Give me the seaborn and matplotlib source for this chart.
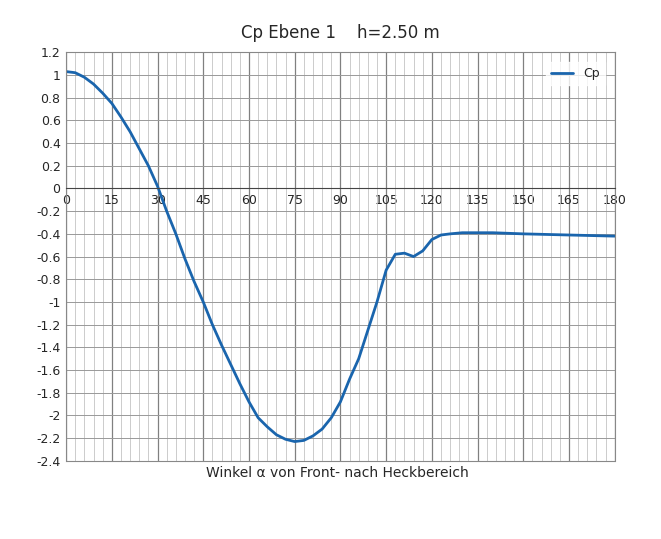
import numpy as np
import matplotlib.pyplot as plt
import seaborn as sns

# Cp distribution
winkel = [0, 3, 6, 9, 12, 15, 18, 21, 24, 27, 30, 33, 36, 39, 42, 45, 48, 51, 54, 57,
          60, 63, 66, 69, 72, 75, 78, 81, 84, 87, 90, 93, 96, 99, 102, 105, 108, 111,
          114, 117, 120, 123, 126, 130, 135, 140, 150, 165, 180]
cp = [1.03, 1.02, 0.98, 0.92, 0.84, 0.75, 0.63, 0.50, 0.35, 0.20, 0.02, -0.20, -0.40,
      -0.62, -0.82, -1.00, -1.20, -1.38, -1.55, -1.72, -1.88, -2.02, -2.10, -2.17,
      -2.21, -2.23, -2.22, -2.18, -2.12, -2.02, -1.88, -1.68, -1.50, -1.25, -1.00,
      -0.72, -0.58, -0.57, -0.60, -0.55, -0.45, -0.41, -0.40, -0.39, -0.39, -0.39,
      -0.40, -0.41, -0.42]

sns.set_style("white")
fig = plt.figure(figsize=(6.61, 5.39), dpi=100)
ax = fig.add_axes([0.1, 0.145, 0.83, 0.758])

sns.lineplot(x=winkel, y=cp, ax=ax, color="#1a65ad", linewidth=2.0, label="Cp")

ax.set_xlim(0, 180)
ax.set_ylim(-2.4, 1.2)
ax.set_xticks(np.arange(0, 181, 15))
ax.set_xticks(np.arange(0, 181, 3), minor=True)
yt = np.round(np.arange(-2.4, 1.21, 0.2), 1)
ax.set_yticks(yt)
ax.set_yticklabels([f"{v:g}" for v in yt])
ax.grid(True, which="minor", axis="x", color="#c4c4c4", linewidth=0.6)
ax.grid(True, which="major", axis="x", color="#808080", linewidth=0.9)
ax.grid(True, which="major", axis="y", color="#999999", linewidth=0.7)

# x axis crosses at y = 0, labels just below it
ax.spines["bottom"].set_position(("data", 0))
ax.spines["bottom"].set_color("#444444")
for s in ["left", "top", "right"]:
    ax.spines[s].set_color("#888888")
ax.plot([0, 180], [-2.4, -2.4], color="#888888", linewidth=0.8, clip_on=False)
ax.tick_params(axis="both", labelsize=9, length=0, pad=4)

ax.set_title("Cp Ebene 1    h=2.50 m", fontsize=12, pad=10)
fig.text(0.51, 0.115, "Winkel \u03b1 von Front- nach Heckbereich", ha="center", fontsize=10)
ax.legend(loc="upper right", fontsize=9, frameon=True, fancybox=False,
          edgecolor="white", borderaxespad=0.8, handlelength=1.8)

fig.savefig("out.png", dpi=100)
